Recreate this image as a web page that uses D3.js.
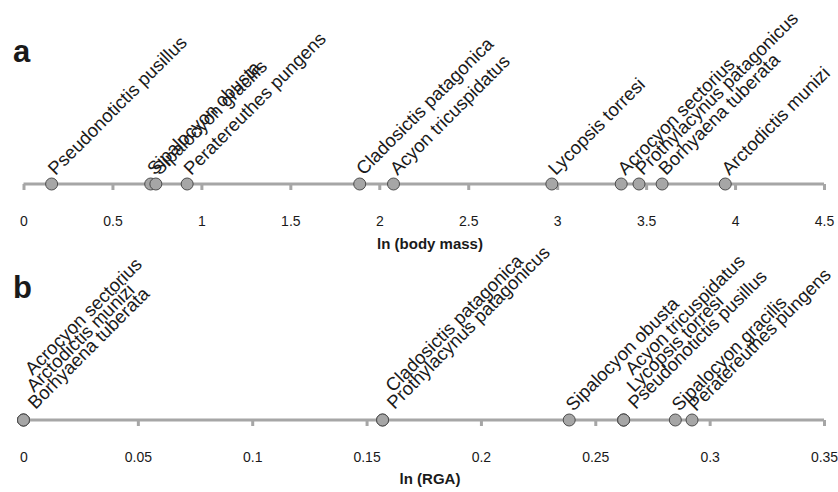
<!DOCTYPE html>
<html>
<head>
<meta charset="utf-8">
<script src="https://cdn.jsdelivr.net/npm/d3@7"></script>
<style>
  body { margin: 0; background: #fff; }
  svg text { font-family: Arial, "Liberation Sans", Helvetica, sans-serif; }
</style>
</head>
<body>
<div id="chart"></div>
<script>
// panel a : ln (body mass)
const speciesA = ["Pseudonotictis pusillus", "Sipalocyon obusta", "Sipalocyon gracilis",
  "Peratereuthes pungens", "Cladosictis patagonica", "Acyon tricuspidatus", "Lycopsis torresi",
  "Acrocyon sectorius", "Prothylacynus patagonicus", "Borhyaena tuberata", "Arctodictis munizi"];
const massValues = [0.158, 0.715, 0.744, 0.92, 1.89, 2.08, 2.97, 3.36, 3.46, 3.59, 3.945];
const massTicks = [0, 0.5, 1, 1.5, 2, 2.5, 3, 3.5, 4, 4.5];

// panel b : ln (RGA)
const speciesB = ["Acrocyon sectorius", "Arctodictis munizi", "Borhyaena tuberata",
  "Cladosictis patagonica", "Prothylacynus patagonicus", "Sipalocyon obusta",
  "Acyon tricuspidatus", "Lycopsis torresi", "Pseudonotictis pusillus",
  "Sipalocyon gracilis", "Peratereuthes pungens"];
const rgaValues = [0, 0, 0, 0.157, 0.157, 0.2386, 0.2624, 0.2624, 0.2624, 0.285, 0.2923];
const rgaTicks = [0, 0.05, 0.1, 0.15, 0.2, 0.25, 0.3, 0.35];

const W = 838, H = 492;
const svg = d3.select("#chart").append("svg")
  .attr("width", W).attr("height", H);

function drawPanel(opt) {
  const x = d3.scaleLinear()
    .domain([opt.ticks[0], opt.ticks[opt.ticks.length - 1]])
    .range([23.5, 824]);
  const g = svg.append("g").attr("transform", "translate(0," + opt.axisY + ")");

  // axis line + ticks (grey, thick)
  const axis = d3.axisBottom(x).tickValues(opt.ticks).tickSize(6).tickPadding(26)
    .tickFormat(d3.format("~g"));
  g.call(axis);
  g.select(".domain").attr("d", "M" + x.range()[0] + ",0H" + x.range()[1])
    .attr("stroke", "#a6a6a6").attr("stroke-width", 3);
  g.selectAll(".tick line").attr("stroke", "#a6a6a6").attr("stroke-width", 3);
  g.selectAll(".tick text").attr("font-size", 14).attr("fill", "#1a1a1a");

  // group equal values so labels stack
  const pts = opt.names.map((n, i) => ({name: n, v: opt.values[i]}));
  const groups = d3.groups(pts, d => d.v);
  groups.forEach(([v, items]) => {
    items.forEach((d, k) => {
      d.level = items.length - 1 - k;
      d.n = items.length;
    });
  });

  // stacked labels sit a bit further right of the dot than single ones
  const lx = d => x(d.v) + (d.n > 1 ? 12 - d.level * 1.5 : 4);
  const ly = d => (d.n > 1 ? -10 : -8) - d.level * 17;

  g.selectAll("text.lbl").data(pts).enter().append("text")
    .attr("class", "lbl")
    .attr("text-anchor", "start")
    .attr("transform", d => "translate(" + lx(d) + "," + ly(d) + ") rotate(-45)")
    .attr("font-size", 18.5)
    .attr("fill", "#1a1a1a")
    .text(d => d.name);

  g.selectAll("circle").data(pts).enter().append("circle")
    .attr("cx", d => x(d.v)).attr("cy", 0).attr("r", 6)
    .attr("fill", "#a6a6a6").attr("stroke", "#4d4d4d").attr("stroke-width", 1);

  svg.append("text")
    .attr("x", 430).attr("y", opt.titleY)
    .attr("text-anchor", "middle")
    .attr("font-size", 15).attr("font-weight", "bold").attr("fill", "#1a1a1a")
    .text(opt.title);

  svg.append("text")
    .attr("x", 13).attr("y", opt.letterY)
    .attr("font-size", 31).attr("font-weight", "bold").attr("fill", "#1a1a1a")
    .text(opt.letter);
}

drawPanel({names: speciesA, values: massValues, ticks: massTicks,
  axisY: 184, title: "ln (body mass)", titleY: 249, letter: "a", letterY: 62});
drawPanel({names: speciesB, values: rgaValues, ticks: rgaTicks,
  axisY: 420, title: "ln (RGA)", titleY: 484, letter: "b", letterY: 298});
</script>
</body>
</html>
